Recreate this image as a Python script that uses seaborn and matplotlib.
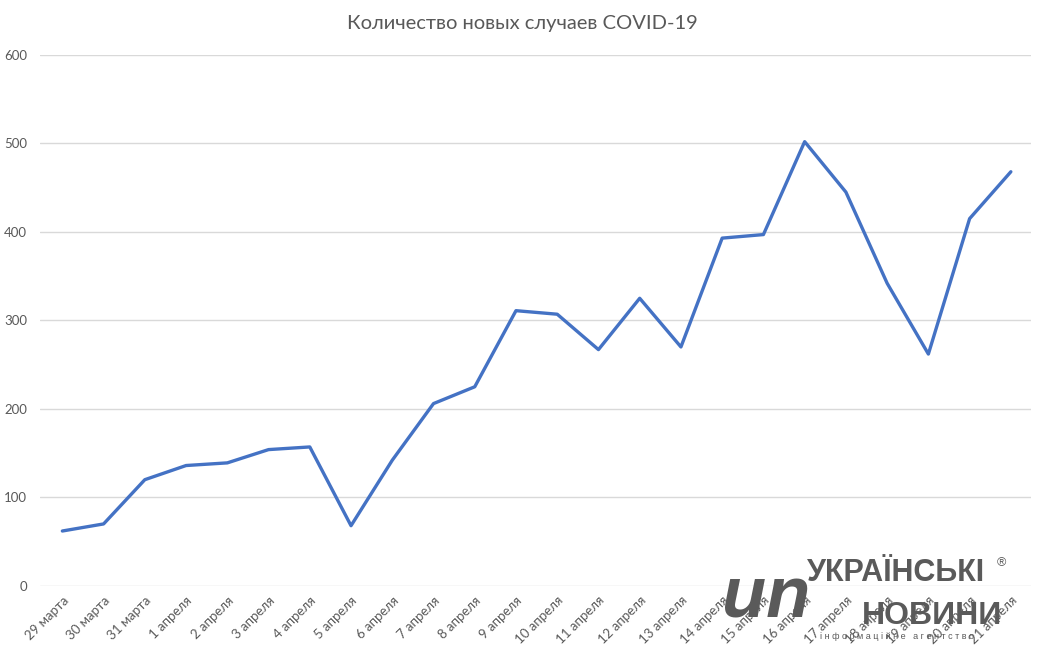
import pandas as pd
import numpy as np
import matplotlib.pyplot as plt
import seaborn as sns

dates = ['29 марта', '30 марта', '31 марта', '1 апреля', '2 апреля', '3 апреля',
         '4 апреля', '5 апреля', '6 апреля', '7 апреля', '8 апреля', '9 апреля',
         '10 апреля', '11 апреля', '12 апреля', '13 апреля', '14 апреля', '15 апреля',
         '16 апреля', '17 апреля', '18 апреля', '19 апреля', '20 апреля', '21 апреля']
cases = [62, 70, 120, 136, 139, 154, 157, 68, 142, 206, 225, 311,
         307, 267, 325, 270, 393, 397, 502, 445, 342, 262, 415, 468]

df = pd.DataFrame({'day': range(len(dates)), 'cases': cases})

sns.set_style("white")
plt.rcParams['font.family'] = ['Lato', 'DejaVu Sans']

fig = plt.figure(figsize=(10.44, 6.62), dpi=100)
ax = fig.add_axes([0.038, 0.115, 0.95, 0.802])

sns.lineplot(data=df, x='day', y='cases', color='#4472C4', linewidth=2.4, ax=ax)

ax.set_ylim(0, 600)
ax.set_xlim(-0.55, 23.5)
ax.set_yticks(range(0, 601, 100))
ax.yaxis.grid(True, color='#d9d9d9', linewidth=1)
ax.set_axisbelow(True)
ax.set_xticks(range(len(dates)))
ax.set_xticklabels(dates, rotation=45, ha='right', rotation_mode='anchor')
ax.tick_params(axis='both', length=0, labelsize=9.5, labelcolor='#595959')
ax.tick_params(axis='y', pad=9)
ax.tick_params(axis='x', pad=6)
ax.set_xlabel('')
ax.set_ylabel('')
sns.despine(left=True, bottom=True)

fig.suptitle('Количество новых случаев COVID-19', y=0.978, fontsize=14.5, color='#595959')

# watermark of the news agency
wm = dict(family=['Liberation Sans', 'DejaVu Sans'], color='#5a5a5a', va='center')
fig.text(0.692, 0.096, 'un', fontsize=52, fontweight='bold', style='italic', ha='left', **wm)
fig.text(0.773, 0.134, 'УКРАЇНСЬКІ', fontsize=22, fontweight='bold', ha='left', **wm)
fig.text(0.826, 0.069, 'НОВИНИ', fontsize=23, fontweight='bold', ha='left', **wm)
fig.text(0.785, 0.038, 'і н ф о р м а ц і й н е   а г е н т с т в о', fontsize=6.5,
         ha='left', **wm)
fig.text(0.955, 0.150, '®', fontsize=9, ha='left', **wm)

fig.savefig('out.png', dpi=100)
